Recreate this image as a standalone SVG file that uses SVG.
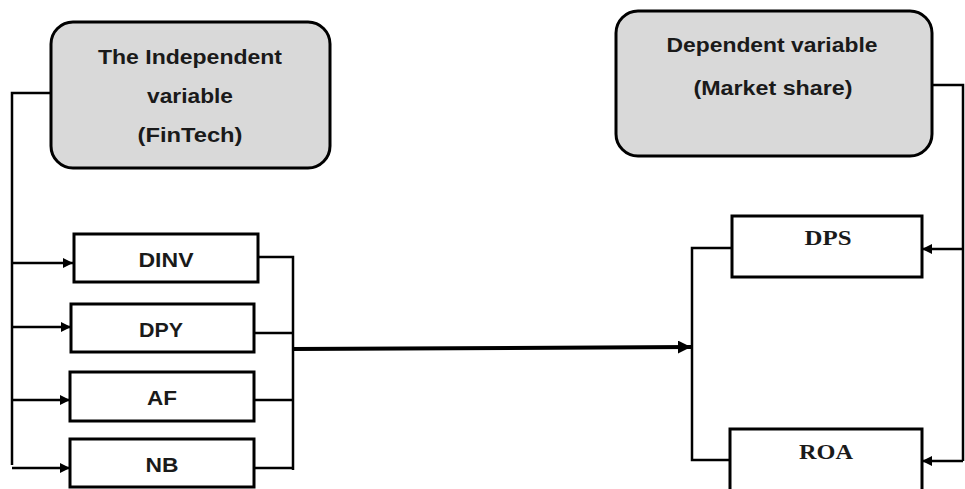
<svg xmlns="http://www.w3.org/2000/svg" width="965" height="489" viewBox="0 0 965 489">
<defs>
<marker id="ah" viewBox="0 0 10 10" refX="10" refY="5" markerWidth="10" markerHeight="10" markerUnits="userSpaceOnUse" orient="auto">
<path d="M0,0 L10,5 L0,10 z" fill="#000"/>
</marker>
<marker id="ahb" viewBox="0 0 10 10" refX="10" refY="5" markerWidth="13" markerHeight="13" markerUnits="userSpaceOnUse" orient="auto">
<path d="M0,0 L10,5 L0,10 z" fill="#000"/>
</marker>
</defs>
<style>
.big{fill:#d9d9d9;stroke:#000;stroke-width:3}
.box{fill:#fff;stroke:#000;stroke-width:3}
.t{font-family:"Liberation Sans",Arial,sans-serif;font-weight:bold;font-size:20px;fill:#1a1a1a;text-anchor:middle}
.s{font-family:"Liberation Serif","Times New Roman",serif;font-weight:bold;font-size:21px;fill:#1a1a1a;text-anchor:middle}
.c{fill:none;stroke:#000;stroke-width:2.5}
.a{fill:none;stroke:#000;stroke-width:2.5;marker-end:url(#ah)}
</style>
<rect width="965" height="489" fill="#fff"/>
<g id="connectors">
<polyline class="c" points="51,93 12,93 12,465"/>
<line class="a" x1="12" y1="263" x2="73" y2="263"/>
<line class="a" x1="12" y1="327" x2="71" y2="327"/>
<line class="a" x1="12" y1="400" x2="70" y2="400"/>
<line class="a" x1="12" y1="468" x2="70" y2="468"/>
<polyline class="c" points="258,257 293,257 293,470"/>
<line class="c" x1="254" y1="333" x2="293" y2="333"/>
<line class="c" x1="254" y1="400" x2="293" y2="400"/>
<line class="c" x1="254" y1="468" x2="293" y2="468"/>
<line x1="293" y1="349" x2="691" y2="347" stroke="#000" stroke-width="4" marker-end="url(#ahb)"/>
<polyline class="c" points="732,248 692,248 692,460 730,460"/>
<polyline class="c" points="932,85 963,85 963,461"/>
<line class="a" x1="963" y1="249" x2="922" y2="249"/>
<line class="a" x1="963" y1="461" x2="922" y2="461"/>
</g>
<g id="independent">
<rect class="big" x="51" y="22" width="279" height="146" rx="22"/>
<text class="t" x="190" y="64" textLength="184" lengthAdjust="spacingAndGlyphs">The Independent</text>
<text class="t" x="190" y="103" textLength="86" lengthAdjust="spacingAndGlyphs">variable</text>
<text class="t" x="190" y="142" textLength="105" lengthAdjust="spacingAndGlyphs">(FinTech)</text>
</g>
<g id="dependent">
<rect class="big" x="616" y="11" width="316" height="145" rx="22"/>
<text class="t" x="772" y="52" textLength="211" lengthAdjust="spacingAndGlyphs">Dependent variable</text>
<text class="t" x="773" y="95" textLength="159" lengthAdjust="spacingAndGlyphs">(Market share)</text>
</g>
<g id="dinv">
<rect class="box" x="74" y="234" width="184" height="48"/>
<text class="t" x="166" y="267" textLength="55" lengthAdjust="spacingAndGlyphs">DINV</text>
</g>
<g id="dpy">
<rect class="box" x="71" y="304" width="183" height="48"/>
<text class="t" x="161" y="337" textLength="44" lengthAdjust="spacingAndGlyphs">DPY</text>
</g>
<g id="af">
<rect class="box" x="70" y="372" width="184" height="49"/>
<text class="t" x="162" y="405" textLength="30" lengthAdjust="spacingAndGlyphs">AF</text>
</g>
<g id="nb">
<rect class="box" x="70" y="439" width="184" height="48"/>
<text class="t" x="162" y="472" textLength="33" lengthAdjust="spacingAndGlyphs">NB</text>
</g>
<g id="dps">
<rect class="box" x="732" y="216" width="190" height="61"/>
<text class="s" x="828" y="245" textLength="47" lengthAdjust="spacingAndGlyphs">DPS</text>
</g>
<g id="roa">
<rect class="box" x="730" y="429" width="192" height="62"/>
<text class="s" x="826" y="459" textLength="54" lengthAdjust="spacingAndGlyphs">ROA</text>
</g>
</svg>
